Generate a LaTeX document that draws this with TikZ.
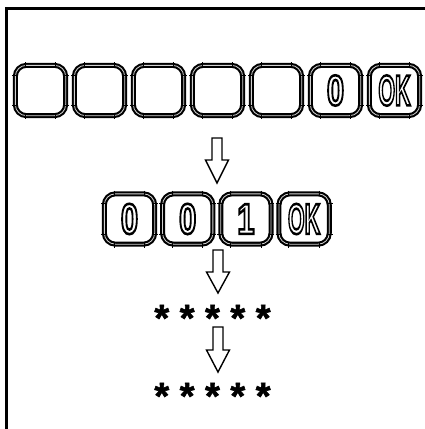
\documentclass[tikz,border=0pt]{standalone}
\usepackage{fontspec}
\setmainfont{Liberation Sans}
\newfontfamily\btnfont[FakeBold=6]{Liberation Sans Bold}
\newfontfamily\starfont[FakeBold=1.5]{Liberation Sans Bold}
\newcommand{\outl}[2]{\scalebox{#1}[1]{\special{pdf:code 1 1 1 rg}#2\special{pdf:code 0 0 0 rg}}}
\begin{document}
\begin{tikzpicture}[x=1pt,y=-1pt,
  btn/.style={draw=black, line width=2.1pt, double=gray!35, double distance=0.8pt,
    rounded corners=11pt, minimum width=50.3pt, minimum height=50.3pt, inner sep=0pt,
    font=\btnfont\fontsize{43}{43}\selectfont},
  tick/.style={line width=0.9pt, draw=black},
  stars/.style={font=\starfont\fontsize{38}{38}\selectfont, inner sep=0pt},
  blockarrow/.style={draw=black, line width=1.4pt, fill=white, line join=miter}]
\useasboundingbox (0,0) rectangle (425,429);
\draw[line width=3pt] (6.5,432) -- (6.5,8.5) -- (428,8.5);
% top row
\foreach \i/\t in {1/,2/,3/,4/,5/,6/{\outl{0.72}{0}},7/{\outl{0.5}{OK}}}{
  \node[btn] (a\i) at ({40.5+59*(\i-1)},90.5) {\t};
}
% second row
\node[btn] (b1) at (129.5,219) {\outl{0.72}{0}};
\node[btn] (b2) at (187.7,219) {\outl{0.72}{0}};
\node[btn] (b3) at (245.9,219) {\outl{0.72}{1}};
\node[btn] (b4) at (304.1,219) {\outl{0.5}{OK}};
% ticks at corner junctions
\foreach \n in {a1,a2,a3,a4,a5,a6,a7,b1,b2,b3,b4}{
  \draw[tick] ([xshift=11pt,yshift=2.3pt]\n.north west) -- ++(0,4.6);
  \draw[tick] ([xshift=-11pt,yshift=2.3pt]\n.north east) -- ++(0,4.6);
  \draw[tick] ([xshift=11pt,yshift=2.3pt]\n.south west) -- ++(0,4.6);
  \draw[tick] ([xshift=-11pt,yshift=2.3pt]\n.south east) -- ++(0,4.6);
  \draw[tick] ([xshift=-2.3pt,yshift=-11pt]\n.north west) -- ++(4.6,0);
  \draw[tick] ([xshift=-2.3pt,yshift=11pt]\n.south west) -- ++(4.6,0);
  \draw[tick] ([xshift=-2.3pt,yshift=-11pt]\n.north east) -- ++(4.6,0);
  \draw[tick] ([xshift=-2.3pt,yshift=11pt]\n.south east) -- ++(4.6,0);
}
% stars
\node[stars] (s1) at (212.5,318) {* * * * *};
\node[stars] (s2) at (212.5,396) {* * * * *};
% block arrows
\draw[blockarrow] (212,138) -- (222,138) -- (222,160) -- (228.5,160) -- (217,183) -- (205.5,160) -- (212,160) -- cycle;
\draw[blockarrow] (213,250) -- (223,250) -- (223,272) -- (229.5,272) -- (218,293) -- (206.5,272) -- (213,272) -- cycle;
\draw[blockarrow] (213,327) -- (223,327) -- (223,350) -- (229.5,350) -- (218,372) -- (206.5,350) -- (213,350) -- cycle;
\end{tikzpicture}
\end{document}
